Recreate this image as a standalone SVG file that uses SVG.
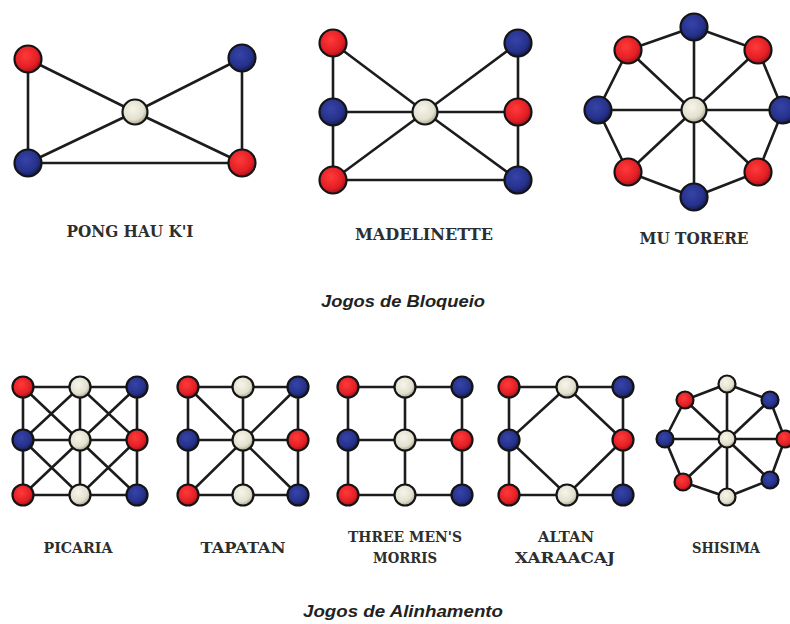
<svg xmlns="http://www.w3.org/2000/svg" width="790" height="624" viewBox="0 0 790 624">
<style>
.e{stroke:#1c1c1c;stroke-width:2.6;fill:none;stroke-linecap:round}
.n{stroke:#141414;stroke-width:2.2}
.r{fill:url(#gr)}
.b{fill:url(#gb)}
.w{fill:url(#gw)}
.lbl{font-family:"DejaVu Serif","Liberation Serif",serif;font-weight:bold;fill:#2e2e2e;text-anchor:middle}
.cap{font-family:"Liberation Sans",Arial,sans-serif;font-weight:bold;font-style:italic;fill:#222;text-anchor:middle;font-size:17px}
</style>
<defs>
<radialGradient id="gr" cx="42%" cy="38%" r="62%">
<stop offset="0" stop-color="#ff3a3a"/><stop offset="0.7" stop-color="#e41f25"/><stop offset="1" stop-color="#a0141a"/>
</radialGradient>
<radialGradient id="gb" cx="42%" cy="38%" r="62%">
<stop offset="0" stop-color="#3644a8"/><stop offset="0.7" stop-color="#26318a"/><stop offset="1" stop-color="#151c55"/>
</radialGradient>
<radialGradient id="gw" cx="42%" cy="38%" r="62%">
<stop offset="0" stop-color="#f6f5ea"/><stop offset="0.7" stop-color="#e2e0cd"/><stop offset="1" stop-color="#a9a794"/>
</radialGradient>
</defs>
<rect width="790" height="624" fill="#fff"/>

<g id="connectors">
<!-- Pong Hau K'i -->
<path class="e" d="M28,59L135,112L242,163M242,58L135,112L28,163M28,59V163H242V58"/>
<!-- Madelinette -->
<path class="e" d="M333,43V180H518V43M333,112H518M333,43L425,112L518,180M518,43L425,112L333,180"/>
<!-- Mu Torere -->
<path class="e" d="M694,27L758,50L783,110L758,172L694,197L628,172L598,110L628,50Z M694,27V197M598,110H783M628,50L758,172M758,50L628,172"/>
<!-- Picaria -->
<path class="e" d="M23,387H137V495H23Z M23,440H137M80,387V495M23,387L137,495M137,387L23,495M80,387L23,440L80,495L137,440Z"/>
<!-- Tapatan -->
<path class="e" d="M188,387H298V495H188Z M188,440H298M243,387V495M188,387L298,495M298,387L188,495"/>
<!-- Three Men's Morris -->
<path class="e" d="M348,387H462V495H348Z M348,440H462M405,387V495"/>
<!-- Altan Xaraacaj -->
<path class="e" d="M509,387H623V495H509Z M567,387L623,440L567,495L509,440Z"/>
<!-- Shisima -->
<path class="e" d="M727,384L770,400L785,439L770,480L727,497L683,482L665,439L685,400Z M727,384V497M665,439H785M685,400L770,480M770,400L683,482"/>
</g>

<g id="pong-hau-ki">
<circle class="n r" cx="28" cy="59" r="13.5"/>
<circle class="n b" cx="242" cy="58" r="13.5"/>
<circle class="n b" cx="28" cy="163" r="13.5"/>
<circle class="n r" cx="242" cy="163" r="13.5"/>
<circle class="n w" cx="135" cy="112" r="12.5"/>
<text class="lbl" x="130" y="237" font-size="16" textLength="127" lengthAdjust="spacingAndGlyphs">PONG HAU K'I</text>
</g>

<g id="madelinette">
<circle class="n r" cx="333" cy="43" r="13.5"/>
<circle class="n b" cx="518" cy="43" r="13.5"/>
<circle class="n b" cx="333" cy="112" r="13.5"/>
<circle class="n r" cx="518" cy="112" r="13.5"/>
<circle class="n r" cx="333" cy="180" r="13.5"/>
<circle class="n b" cx="518" cy="180" r="13.5"/>
<circle class="n w" cx="425" cy="112" r="12.5"/>
<text class="lbl" x="424" y="240" font-size="16" textLength="138" lengthAdjust="spacingAndGlyphs">MADELINETTE</text>
</g>

<g id="mu-torere">
<circle class="n b" cx="694" cy="27" r="13.5"/>
<circle class="n r" cx="758" cy="50" r="13.5"/>
<circle class="n b" cx="783" cy="110" r="13.5"/>
<circle class="n r" cx="758" cy="172" r="13.5"/>
<circle class="n b" cx="694" cy="197" r="13.5"/>
<circle class="n r" cx="628" cy="172" r="13.5"/>
<circle class="n b" cx="598" cy="110" r="13.5"/>
<circle class="n r" cx="628" cy="50" r="13.5"/>
<circle class="n w" cx="694" cy="110" r="12.5"/>
<text class="lbl" x="694" y="244" font-size="16" textLength="109" lengthAdjust="spacingAndGlyphs">MU TORERE</text>
</g>

<text id="caption-bloqueio" class="cap" x="403" y="307" textLength="164" lengthAdjust="spacingAndGlyphs">Jogos de Bloqueio</text>

<g id="picaria">
<circle class="n r" cx="23" cy="387" r="10.5"/>
<circle class="n w" cx="80" cy="387" r="10.5"/>
<circle class="n b" cx="137" cy="387" r="10.5"/>
<circle class="n b" cx="23" cy="440" r="10.5"/>
<circle class="n w" cx="80" cy="440" r="10.5"/>
<circle class="n r" cx="137" cy="440" r="10.5"/>
<circle class="n r" cx="23" cy="495" r="10.5"/>
<circle class="n w" cx="80" cy="495" r="10.5"/>
<circle class="n b" cx="137" cy="495" r="10.5"/>
<text class="lbl" x="78" y="553" font-size="15" textLength="69" lengthAdjust="spacingAndGlyphs">PICARIA</text>
</g>

<g id="tapatan">
<circle class="n r" cx="188" cy="387" r="10.5"/>
<circle class="n w" cx="243" cy="387" r="10.5"/>
<circle class="n b" cx="298" cy="387" r="10.5"/>
<circle class="n b" cx="188" cy="440" r="10.5"/>
<circle class="n w" cx="243" cy="440" r="10.5"/>
<circle class="n r" cx="298" cy="440" r="10.5"/>
<circle class="n r" cx="188" cy="495" r="10.5"/>
<circle class="n w" cx="243" cy="495" r="10.5"/>
<circle class="n b" cx="298" cy="495" r="10.5"/>
<text class="lbl" x="243" y="553" font-size="15" textLength="85" lengthAdjust="spacingAndGlyphs">TAPATAN</text>
</g>

<g id="three-mens-morris">
<circle class="n r" cx="348" cy="387" r="10.5"/>
<circle class="n w" cx="405" cy="387" r="10.5"/>
<circle class="n b" cx="462" cy="387" r="10.5"/>
<circle class="n b" cx="348" cy="440" r="10.5"/>
<circle class="n w" cx="405" cy="440" r="10.5"/>
<circle class="n r" cx="462" cy="440" r="10.5"/>
<circle class="n r" cx="348" cy="495" r="10.5"/>
<circle class="n w" cx="405" cy="495" r="10.5"/>
<circle class="n b" cx="462" cy="495" r="10.5"/>
<text class="lbl" x="405" y="542" font-size="15" textLength="114" lengthAdjust="spacingAndGlyphs">THREE MEN'S</text>
<text class="lbl" x="405" y="563" font-size="15" textLength="64" lengthAdjust="spacingAndGlyphs">MORRIS</text>
</g>

<g id="altan-xaraacaj">
<circle class="n r" cx="509" cy="387" r="10.5"/>
<circle class="n w" cx="567" cy="387" r="10.5"/>
<circle class="n b" cx="623" cy="387" r="10.5"/>
<circle class="n b" cx="509" cy="440" r="10.5"/>
<circle class="n r" cx="623" cy="440" r="10.5"/>
<circle class="n r" cx="509" cy="495" r="10.5"/>
<circle class="n w" cx="567" cy="495" r="10.5"/>
<circle class="n b" cx="623" cy="495" r="10.5"/>
<text class="lbl" x="566" y="542" font-size="15" textLength="56" lengthAdjust="spacingAndGlyphs">ALTAN</text>
<text class="lbl" x="565" y="563" font-size="15" textLength="100" lengthAdjust="spacingAndGlyphs">XARAACAJ</text>
</g>

<g id="shisima">
<circle class="n w" cx="727" cy="384" r="8.5"/>
<circle class="n b" cx="770" cy="400" r="8.5"/>
<circle class="n r" cx="785" cy="439" r="8.5"/>
<circle class="n b" cx="770" cy="480" r="8.5"/>
<circle class="n w" cx="727" cy="497" r="8.5"/>
<circle class="n r" cx="683" cy="482" r="8.5"/>
<circle class="n b" cx="665" cy="439" r="8.5"/>
<circle class="n r" cx="685" cy="400" r="8.5"/>
<circle class="n w" cx="727" cy="439" r="8.5"/>
<text class="lbl" x="726" y="553" font-size="15" textLength="68" lengthAdjust="spacingAndGlyphs">SHISIMA</text>
</g>

<text id="caption-alinhamento" class="cap" x="403" y="617" textLength="200" lengthAdjust="spacingAndGlyphs">Jogos de Alinhamento</text>
</svg>
